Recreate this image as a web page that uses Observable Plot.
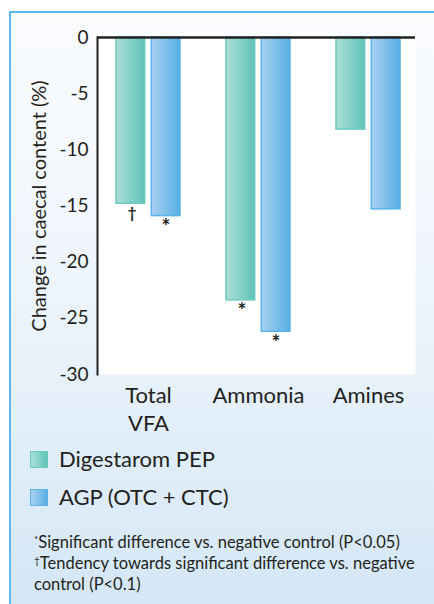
<!DOCTYPE html>
<html>
<head>
<meta charset="utf-8">
<script src="https://cdn.jsdelivr.net/npm/d3@7"></script>
<script src="https://cdn.jsdelivr.net/npm/@observablehq/plot@0.6"></script>
<style>
  html, body { margin: 0; padding: 0; }
  body { width: 434px; height: 604px; overflow: hidden; background: #fff; font-family: Lato, "Open Sans", sans-serif; color: #231f20; position: relative; }
  #panel { position: absolute; left: 9px; top: 11px; right: 0; bottom: 0; border-left: 2px solid #5cb9e9; border-top: 2px solid #5cb9e9; background: linear-gradient(to bottom, #fafcfe 0%, #eef5fb 45%, #d4e7f6 100%); }
  #chart { position: absolute; left: 0; top: 0; }
  .legend-row { position: absolute; left: 30px; display: flex; align-items: center; font-size: 22px; line-height: 26px; }
  .swatch { width: 18px; height: 17px; margin-right: 11px; box-sizing: border-box; }
  #notes { position: absolute; left: 34px; top: 532px; font-size: 16.5px; line-height: 21px; white-space: nowrap; }
  #notes sup { font-size: 10px; vertical-align: 5px; line-height: 0; }
</style>
</head>
<body>
<div id="panel"></div>
<div id="chart"></div>
<div id="legend"></div>
<div id="notes"></div>
<script>
// ---- data ----
const categories = ["Total\nVFA", "Ammonia", "Amines"];
const seriesNames = ["Digestarom PEP", "AGP (OTC + CTC)"];
const digestaromValues = [-14.8, -23.4, -8.2];
const agpValues = [-15.9, -26.2, -15.3];
const digestaromMarks = ["\u2020", "*", ""];
const agpMarks = ["*", "*", ""];
const yTicks = [0, -5, -10, -15, -20, -25, -30];
const yLabel = "Change in caecal content (%)";
const footnotes = [
  ["*", "Significant difference vs. negative control (P<0.05)"],
  ["\u2020", "Tendency towards significant difference vs. negative<br>control (P<0.1)"]
];

const seriesColors = {
  green: {light: "#abdfd8", dark: "#5fc3b7", stroke: "#6dcabe"},
  blue: {light: "#a9d1f1", dark: "#58afe5", stroke: "#5ab3e8"}
};

const rows = categories.map((c, i) => ({
  category: c,
  digestarom: digestaromValues[i],
  agp: agpValues[i],
  dMark: digestaromMarks[i],
  aMark: agpMarks[i]
}));

const half = 17.5;

const chart = Plot.plot({
  width: 434,
  height: 440,
  marginLeft: 97,
  marginRight: 19,
  marginTop: 37,
  marginBottom: 66,
  style: {background: "transparent", fontFamily: "Lato, 'Open Sans', sans-serif", color: "#231f20", overflow: "visible"},
  x: {domain: categories, paddingInner: 0.414, paddingOuter: 0.14, align: 0.58, label: null, axis: null},
  y: {domain: [-30, 0], label: null, axis: null},
  marks: [
    Plot.frame({fill: "white", stroke: "none"}),
    Plot.barY(rows, {x: "category", y: "digestarom", fill: "url(#gradGreen)", stroke: seriesColors.green.stroke, strokeWidth: 1.5, insetRight: 35.3}),
    Plot.barY(rows, {x: "category", y: "agp", fill: "url(#gradBlue)", stroke: seriesColors.blue.stroke, strokeWidth: 1.5, insetLeft: 35.3}),
    Plot.text(rows.filter(d => d.dMark === "\u2020"), {x: "category", y: "digestarom", text: "dMark", dx: -half + 1, dy: 4, lineAnchor: "top", fontSize: 15, fontWeight: "bold", fill: "#231f20"}),
    Plot.text(rows.filter(d => d.dMark === "*"), {x: "category", y: "digestarom", text: "dMark", dx: -half + 1, dy: 3, lineAnchor: "top", fontSize: 21, fontWeight: "bold", fill: "#231f20"}),
    Plot.text(rows, {x: "category", y: "agp", text: "aMark", dx: half, dy: 3, lineAnchor: "top", fontSize: 21, fontWeight: "bold", fill: "#231f20"}),
    Plot.ruleY([0], {stroke: "#222", strokeWidth: 2.5}),
    Plot.frame({anchor: "left", stroke: "#222", strokeWidth: 2}),
    Plot.axisY({ticks: yTicks, tickFormat: d => String(d), tickSize: 0, tickPadding: 9, fontSize: 19, label: null}),
    Plot.text([yLabel], {frameAnchor: "left", textAnchor: "middle", rotate: -90, dx: -58, fontSize: 20, fill: "#231f20"}),
    Plot.axisX({tickSize: 0, tickPadding: 9, fontSize: 22, lineHeight: 1.27, lineAnchor: "top", label: null})
  ]
});

const defs = `<defs>
  <linearGradient id="gradGreen" x1="0" x2="1" y1="0" y2="0">
    <stop offset="0" stop-color="${seriesColors.green.light}"/>
    <stop offset="1" stop-color="${seriesColors.green.dark}"/>
  </linearGradient>
  <linearGradient id="gradBlue" x1="0" x2="1" y1="0" y2="0">
    <stop offset="0" stop-color="${seriesColors.blue.light}"/>
    <stop offset="1" stop-color="${seriesColors.blue.dark}"/>
  </linearGradient>
</defs>`;
chart.insertAdjacentHTML("afterbegin", defs);
document.getElementById("chart").appendChild(chart);

// legend
const legend = document.getElementById("legend");
const legendItems = [
  {name: seriesNames[0], c: seriesColors.green, top: 446},
  {name: seriesNames[1], c: seriesColors.blue, top: 484}
];
legendItems.forEach(it => {
  const row = document.createElement("div");
  row.className = "legend-row";
  row.style.top = it.top + "px";
  const sw = document.createElement("div");
  sw.className = "swatch";
  sw.style.background = `linear-gradient(to right, ${it.c.light}, ${it.c.dark})`;
  sw.style.border = `1px solid ${it.c.stroke}`;
  const t = document.createElement("span");
  t.textContent = it.name;
  row.appendChild(sw);
  row.appendChild(t);
  legend.appendChild(row);
});

// footnotes
document.getElementById("notes").innerHTML = footnotes.map(([s, t]) => `<div><sup>${s}</sup>${t}</div>`).join("");
</script>
</body>
</html>
